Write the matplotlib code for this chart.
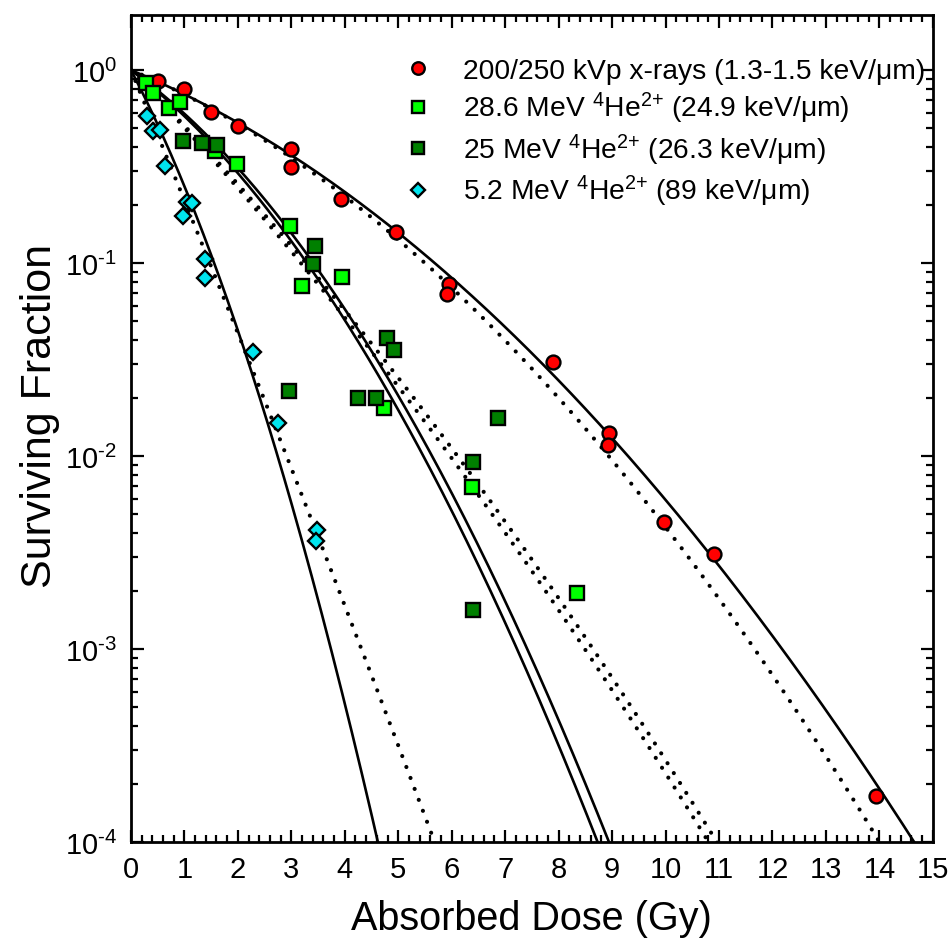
import numpy as np
import matplotlib
matplotlib.use('Agg')
import matplotlib.pyplot as plt
from matplotlib.ticker import MultipleLocator, LogLocator, NullFormatter, FuncFormatter

plt.rcParams['font.family'] = ['Liberation Sans', 'DejaVu Sans']
plt.rcParams['mathtext.fontset'] = 'custom'
plt.rcParams['mathtext.rm'] = 'Liberation Sans'
plt.rcParams['mathtext.it'] = 'Liberation Sans:italic'

# measured survival data
xray_dose = [0.5, 1.0, 1.5, 2.0, 3.0, 3.0, 3.93, 4.95, 5.95, 5.92, 7.9, 8.95, 8.92, 9.98, 10.9, 13.93]
xray_sf = [0.877, 0.80, 0.605, 0.513, 0.39, 0.314, 0.215, 0.145, 0.078, 0.069, 0.0307, 0.0132,
           0.0114, 0.00455, 0.0031, 0.000173]

he286_dose = [0.28, 0.42, 0.72, 0.92, 1.57, 1.98, 2.97, 3.2, 3.94, 4.73, 6.37, 8.34]
he286_sf = [0.86, 0.76, 0.64, 0.68, 0.38, 0.326, 0.155, 0.076, 0.085, 0.0177, 0.0069, 0.00195]

he25_dose = [0.98, 1.33, 1.61, 2.95, 3.4, 3.44, 4.25, 4.58, 4.78, 4.92, 6.4, 6.86, 6.4]
he25_sf = [0.43, 0.42, 0.41, 0.0217, 0.099, 0.1225, 0.020, 0.020, 0.0408, 0.0354, 0.0093, 0.0157, 0.00159]

he52_dose = [0.3, 0.41, 0.54, 0.64, 0.97, 1.05, 1.14, 1.38, 1.38, 2.28, 2.75, 3.48, 3.47]
he52_sf = [0.578, 0.483, 0.489, 0.318, 0.175, 0.207, 0.205, 0.105, 0.0836, 0.0346, 0.0148,
           0.00414, 0.00363]

labels = ['200/250 kVp x-rays (1.3-1.5 keV/μm)',
          '28.6 MeV $^{4}$He$^{2\\text{+}}$ (24.9 keV/μm)',
          '25 MeV $^{4}$He$^{2\\text{+}}$ (26.3 keV/μm)',
          '5.2 MeV $^{4}$He$^{2\\text{+}}$ (89 keV/μm)']

# linear-quadratic fit parameters (alpha, beta)
solid_alpha = [0.2636, 0.4842, 0.456, 1.218]
solid_beta = [0.02492, 0.0654, 0.0642, 0.168]
dotted_alpha = [0.264, 0.671, 0.645, 1.541]
dotted_beta = [0.02813, 0.0168, 0.01783, 0.01415]


def decade(v, pos):
    e = int(round(np.log10(v)))
    if e < 0:
        return r'10$^{\text{-}%d}$' % (-e)
    return r'10$^{%d}$' % e


fig = plt.figure(figsize=(9.49, 9.53), dpi=100)
ax = fig.add_axes([0.138, 0.1154, 0.845, 0.8678])

d = np.linspace(0, 15, 400)
for a, b in zip(solid_alpha, solid_beta):
    ax.plot(d, np.exp(-a * d - b * d ** 2), color='black', lw=1.9)
for a, b in zip(dotted_alpha, dotted_beta):
    ax.plot(d, np.exp(-a * d - b * d ** 2), color='black', lw=3.0,
            linestyle=(0, (0.01, 2.8)), dash_capstyle='round')

mk = dict(linestyle='none', markeredgecolor='black', markeredgewidth=1.7)
ax.plot(xray_dose, xray_sf, marker='o', markersize=10, markerfacecolor='#ff0000', label=labels[0], **mk)
ax.plot(he286_dose, he286_sf, marker='s', markersize=9.5, markerfacecolor='#00ff00', label=labels[1], **mk)
ax.plot(he25_dose, he25_sf, marker='s', markersize=9.5, markerfacecolor='#008000', label=labels[2], **mk)
ax.plot(he52_dose, he52_sf, marker='D', markersize=8, markerfacecolor='#00e5ee', label=labels[3], **mk)

ax.set_yscale('log')
ax.set_xlim(0, 15)
ax.set_ylim(1e-4, 1.93)
ax.xaxis.set_major_locator(MultipleLocator(1))
ax.xaxis.set_minor_locator(MultipleLocator(0.2))
ax.yaxis.set_major_locator(LogLocator(base=10, numticks=10))
ax.yaxis.set_major_formatter(FuncFormatter(decade))
ax.yaxis.set_minor_locator(LogLocator(base=10, subs=np.arange(2, 10), numticks=20))
ax.yaxis.set_minor_formatter(NullFormatter())

ax.tick_params(which='both', direction='in', top=True, right=True, width=1.6, labelsize=21)
ax.tick_params(which='major', length=9)
ax.tick_params(which='minor', length=5)
ax.tick_params(axis='x', pad=9)
ax.tick_params(axis='y', pad=10)
for s in ax.spines.values():
    s.set_linewidth(2)

ax.set_xlabel('Absorbed Dose (Gy)', fontsize=28.5, labelpad=12)
ax.set_ylabel('Surviving Fraction', fontsize=31)
ax.yaxis.set_label_coords(-0.088, 0.516)

ax.legend(loc='upper left', bbox_to_anchor=(0.34, 0.948), frameon=False, fontsize=20.3,
          borderpad=0, borderaxespad=0, handlelength=1.0, handletextpad=1.1,
          labelspacing=0.22, markerscale=0.9)

plt.savefig('out.png', dpi=100)
